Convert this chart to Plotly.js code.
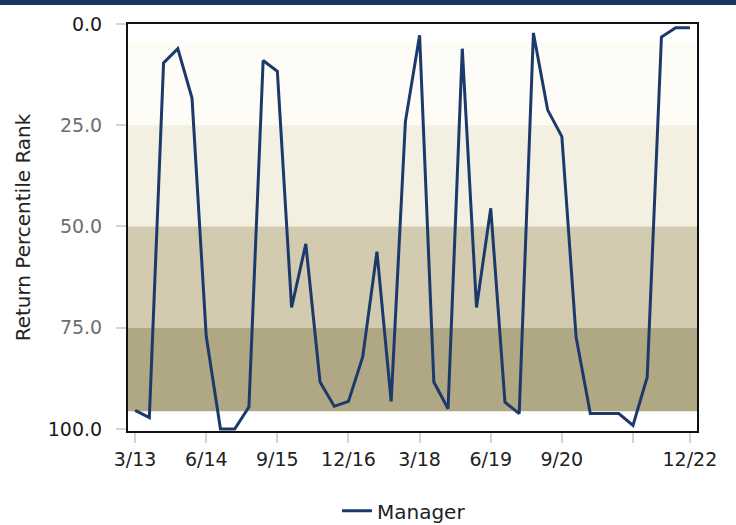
<!DOCTYPE html>
<html>
<head>
<meta charset="utf-8">
<script src="https://cdn.plot.ly/plotly-3.0.1.min.js"></script>
<style>
  html, body { margin: 0; padding: 0; background: #fff; }
  #wrap { position: relative; width: 736px; height: 525px; }
  #topbar { position: absolute; left: 0; top: 0; width: 736px; height: 5px; background: #17375e; z-index: 10; }
  #chart { width: 736px; height: 525px; }
</style>
</head>
<body>
<div id="wrap">
  <div id="topbar"></div>
  <div id="chart"></div>
</div>
<script>
// Quarter-end labels (month/yy)
const quarters = [
  "3/13","6/13","9/13","12/13",
  "3/14","6/14","9/14","12/14",
  "3/15","6/15","9/15","12/15",
  "3/16","6/16","9/16","12/16",
  "3/17","6/17","9/17","12/17",
  "3/18","6/18","9/18","12/18",
  "3/19","6/19","9/19","12/19",
  "3/20","6/20","9/20","12/20",
  "3/21","6/21","9/21","12/21",
  "3/22","6/22","9/22","12/22"
];

// Manager return percentile rank per quarter
const managerRank = [
  95.4, 97.2, 9.6, 6.1,
  18.3, 77.1, 100.0, 100.0,
  94.6, 9.0, 11.7, 70.0,
  54.3, 88.4, 94.4, 93.2,
  82.2, 56.2, 93.2, 24.1,
  2.8, 88.4, 95.0, 6.1,
  70.0, 45.5, 93.4, 96.2,
  2.2, 21.2, 27.8, 77.3,
  96.2, 96.2, 96.2, 99.1,
  87.2, 3.2, 0.9, 0.9
];

// X tick labels
const xTickVals = ["3/13","6/14","9/15","12/16","3/18","6/19","9/20","12/21","12/22"];
const xTickText = ["3/13","6/14","9/15","12/16","3/18","6/19","9/20","","12/22"];

// Y tick labels
const yTickVals = [0, 25, 50, 75, 100];
const yTickText = ["0.0", "25.0", "50.0", "75.0", "100.0"];
const yTickColors = ["#1a1a1a", "#6e6e6e", "#6e6e6e", "#6e6e6e", "#1a1a1a"];

// Quartile background bands (edges in rank units) and their fills
const bandEdges = [4.5, 25, 50, 75, 95.6];
const bandColors = ["#fdfcf6", "#f3f0e2", "#d2cbb0", "#b0a784"];

const FONT = "DejaVu Sans, sans-serif";

const shapes = bandColors.map((c, i) => ({
  type: "rect", layer: "below",
  xref: "paper", x0: 0, x1: 1,
  yref: "y", y0: bandEdges[i], y1: bandEdges[i + 1],
  fillcolor: c, line: { width: 0 }
}));

const trace = {
  type: "scatter",
  mode: "lines",
  name: "Manager",
  x: quarters,
  y: managerRank,
  line: { color: "#1b3a6b", width: 3 }
};

const layout = {
  width: 736, height: 525,
  margin: { l: 128, r: 39, t: 24, b: 94, autoexpand: false },
  paper_bgcolor: "#ffffff",
  plot_bgcolor: "#ffffff",
  font: { family: FONT, size: 19, color: "#222" },
  showlegend: true,
  legend: {
    orientation: "h",
    x: 0.485, xanchor: "center",
    y: -0.196, yanchor: "middle",
    font: { family: FONT, size: 20, color: "#222" },
    bgcolor: "rgba(0,0,0,0)"
  },
  shapes: shapes,
  xaxis: {
    type: "category",
    categoryorder: "array",
    categoryarray: quarters,
    range: [-0.5, 39.5],
    tickmode: "array",
    tickvals: xTickVals,
    ticktext: xTickText,
    ticks: "outside", ticklen: 10, tickwidth: 2, tickcolor: "#d4d4d4",
    tickfont: { family: FONT, size: 19, color: "#222" },
    showgrid: false, zeroline: false,
    showline: true, linecolor: "#111", linewidth: 2, mirror: true
  },
  yaxis: {
    range: [100.5, 0],
    tickmode: "array",
    tickvals: yTickVals,
    ticktext: yTickText.map((t, i) => `<span style="color:${yTickColors[i]}">${t}</span>`),
    ticks: "outside", ticklen: 10, tickwidth: 2, tickcolor: "#d4d4d4",
    ticklabelstandoff: 10,
    tickfont: { family: FONT, size: 19, color: "#6e6e6e" },
    showgrid: false, zeroline: false,
    showline: true, linecolor: "#111", linewidth: 2, mirror: true,
    title: { text: "Return Percentile Rank", font: { family: FONT, size: 20, color: "#222" }, standoff: 12 }
  }
};

Plotly.newPlot("chart", [trace], layout, { displayModeBar: false, staticPlot: true });
</script>
</body>
</html>
